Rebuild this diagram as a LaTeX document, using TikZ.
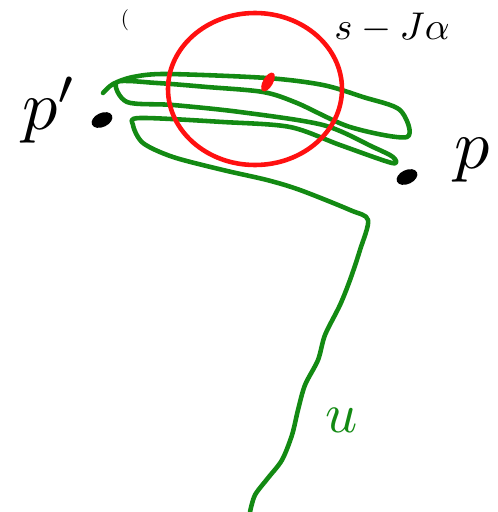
\documentclass[tikz,border=0pt]{standalone}
\usepackage{amsmath}
\usepackage{graphicx}
\usetikzlibrary{shapes.geometric}
\definecolor{penG}{HTML}{138A13}
\definecolor{penR}{HTML}{FF1010}
\definecolor{penK}{HTML}{000000}
\newcommand{\handtxt}[2]{\scalebox{#1}{$#2$}}

\begin{document}
\begin{tikzpicture}[
  x=0.05cm, y=-0.05cm,
  stroke/.style={draw=#1, line width=6.5pt, line cap=round, line join=round},
  dotmark/.style={ellipse, fill=penK, minimum width=1.1cm, minimum height=0.7cm, inner sep=0pt, rotate=25},
  hand/.style={text=#1, inner sep=0pt},
]
\useasboundingbox (0,0) rectangle (498,512);

% the path u, drawn as one freehand stroke
\draw[stroke=penG] plot[smooth, tension=0.5] coordinates {
  (103,93) (113,84) (133,77) (167,74) (267,78) (323,85) (363,97) (400,110) (407,137)
  (350,127) (297,103) (263,92) (207,87) (157,83) (117,82) (127,102)
  (173,105) (240,112) (323,125) (373,147) (393,157) (392,163)
  (340,145) (290,127) (223,122) (140,118) (133,125) (143,143) (173,157)
  (223,170) (267,180) (300,190) (350,210) (368,220)
  (360,250) (350,280) (340,305) (325,335) (318,360) (305,385) (298,410)
  (292,435) (282,460) (268,478) (255,495) (250,512)};

% neighbourhood ball
\draw[stroke=penR] (255,89) ellipse [x radius=87, y radius=76];
\node[ellipse, fill=penR, minimum width=0.5cm, minimum height=1.05cm, inner sep=0pt, rotate=-30] (mid) at (268,82) {};

% end points
\node[dotmark] (pprime) at (102,120) {};
\node[dotmark] (pend) at (407,177) {};
\node[hand=penK] (lblpp) at (50,110) {\handtxt{10}{p'}};
\node[hand=penK] (lblp) at (472,160) {\handtxt{10}{p}};
\node[hand=penG] (lblu) at (342,420) {\handtxt{8}{u}};

% note at the top edge
\node[hand=penK] (note) at (392,28) {\handtxt{5.5}{s-J\alpha}};
\node[hand=penK] (lpar) at (125,20) {\handtxt{3}{(}};
\end{tikzpicture}
\end{document}
